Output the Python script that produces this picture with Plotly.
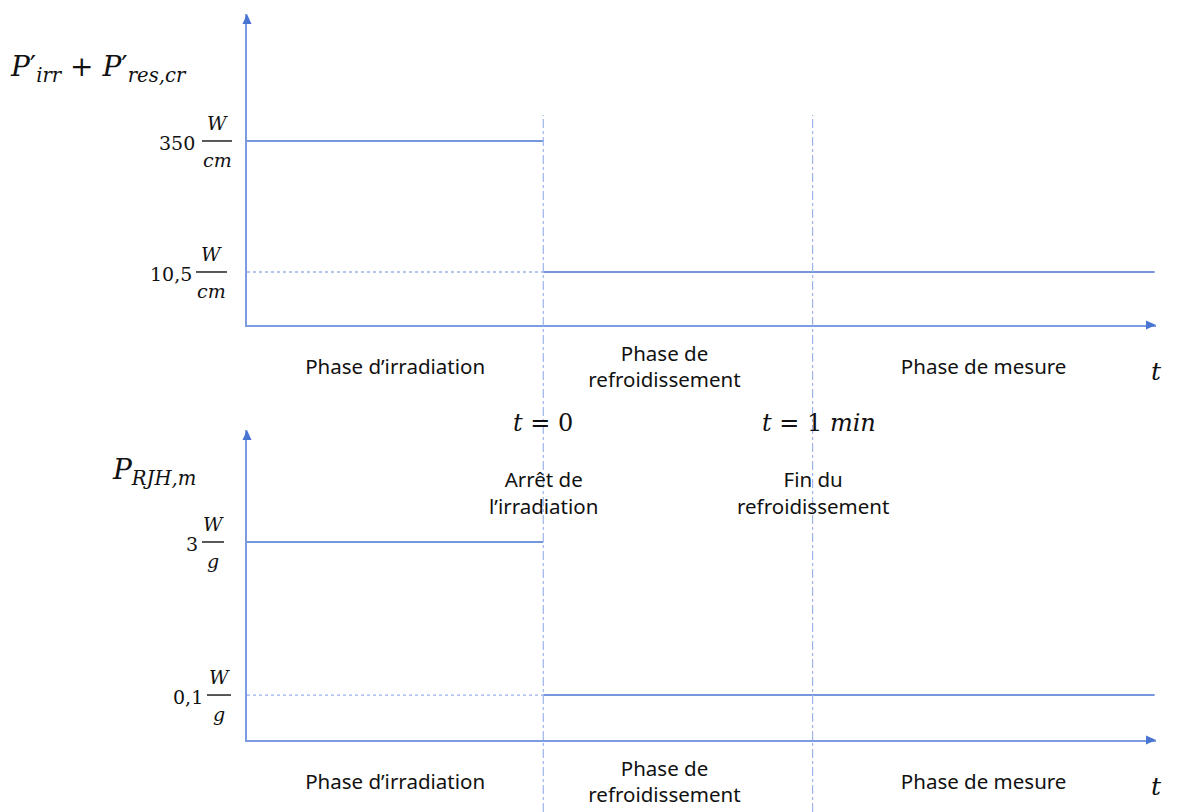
import numpy as np
import plotly.graph_objects as go

# temps (min)
T_DEBUT = -1.1          # début de l'axe / de l'irradiation
T_ARRET = 0.0           # arrêt de l'irradiation
T_FIN_REFROID = 1.0     # fin du refroidissement
T_FIN = 2.27            # fin des courbes
T_AXE = 2.275           # bout de la flèche de l'axe t

# puissance linéique (W/cm)
P_LIN = [350, 10.5]
P_LIN_TXT = ["350", "10,5"]
# puissance massique (W/g)
P_MAS = [3, 0.1]
P_MAS_TXT = ["3", "0,1"]

PHASES = ["Phase d’irradiation", "Phase de<br>refroidissement", "Phase de mesure"]
PHASES_T = [(T_DEBUT + T_ARRET) / 2, 0.45, (T_FIN_REFROID + T_FIN) / 2]

W, H = 1181, 812
BLEU = "#4874d2"
BLEU_AXE = "#7d9be0"
BLEU_CLAIR = "#9cb4ea"
NOIR = "#111111"
SERIF = "DejaVu Serif, serif"
FONT_TXT = dict(family="Noto Sans, sans-serif", size=20.5, color=NOIR)
FONT_MATH = dict(family=SERIF, size=19, color=NOIR)


def px_x(p):
    return p / W


def px_y(p):
    return 1 - p / H


fig = go.Figure()

# courbes : niveau pendant l'irradiation puis niveau résiduel
for niveaux, xa, ya in [(P_LIN, "x", "y"), (P_MAS, "x2", "y2")]:
    fig.add_trace(go.Scatter(
        x=[T_DEBUT, T_ARRET, None, T_ARRET, T_FIN],
        y=[niveaux[0], niveaux[0], None, niveaux[1], niveaux[1]],
        mode="lines", line=dict(color=BLEU, width=1.6),
        xaxis=xa, yaxis=ya, showlegend=False, hoverinfo="skip",
    ))
    # rappel en pointillé du niveau résiduel
    fig.add_trace(go.Scatter(
        x=[T_DEBUT, T_ARRET],
        y=[niveaux[1], niveaux[1]],
        mode="lines", line=dict(color=BLEU_CLAIR, width=1.3, dash="dot"),
        xaxis=xa, yaxis=ya, showlegend=False, hoverinfo="skip",
    ))

# libellés des phases sous chaque axe t (axe y3 = repère de la page, en pixels)
for y_lig in [369, 784]:
    fig.add_trace(go.Scatter(
        x=PHASES_T, y=[y_lig] * 3, text=PHASES, mode="text",
        textfont=FONT_TXT, textposition="middle center", cliponaxis=False,
        xaxis="x", yaxis="y3", showlegend=False, hoverinfo="skip",
    ))
    fig.add_trace(go.Scatter(
        x=[T_AXE], y=[y_lig + 5], text=["<i>t</i>"], mode="text",
        textfont=dict(family=SERIF, size=25, color=NOIR), cliponaxis=False,
        xaxis="x", yaxis="y3", showlegend=False, hoverinfo="skip",
    ))

axe_x = dict(range=[T_DEBUT, T_AXE], showgrid=False, zeroline=False, ticks="",
             showticklabels=False, showline=True, linecolor=BLEU_AXE, linewidth=1.5,
             fixedrange=True)
axe_y = dict(type="log", showgrid=False, zeroline=False, ticks="", showticklabels=False,
             showline=True, linecolor=BLEU_AXE, linewidth=1.5, fixedrange=True)
fig.update_layout(
    width=W, height=H,
    margin=dict(l=0, r=0, t=0, b=0),
    paper_bgcolor="white", plot_bgcolor="rgba(0,0,0,0)",
    xaxis=dict(domain=[px_x(247), px_x(1156)], anchor="y", **axe_x),
    xaxis2=dict(domain=[px_x(247), px_x(1156)], anchor="y2", **axe_x),
    yaxis=dict(domain=[px_y(325), px_y(14)], range=[0.405, 4.02], anchor="x", **axe_y),
    yaxis2=dict(domain=[px_y(740), px_y(430)], range=[-1.434, 1.558], anchor="x2", **axe_y),
    yaxis3=dict(domain=[0, 1], range=[H, 0], anchor="free", position=0, visible=False,
                fixedrange=True),
)

# pointes de flèche des axes
for xr, yr in [("x domain", "y domain"), ("x2 domain", "y2 domain")]:
    fig.add_shape(type="path", xref=xr, yref=yr, xsizemode="pixel", ysizemode="pixel",
                  xanchor=1, yanchor=0, path="M -10,-4.5 L 0,0 L -10,4.5 Z",
                  fillcolor=BLEU, line=dict(width=0))
    fig.add_shape(type="path", xref=xr, yref=yr, xsizemode="pixel", ysizemode="pixel",
                  xanchor=0, yanchor=1, path="M -4.5,-10 L 0,0 L 4.5,-10 Z",
                  fillcolor=BLEU, line=dict(width=0))

# lignes verticales t = 0 et t = 1 min
for t in [T_ARRET, T_FIN_REFROID]:
    fig.add_shape(type="line", xref="x", yref="paper", x0=t, x1=t,
                  y0=0, y1=px_y(115), line=dict(color=BLEU_CLAIR, width=1.2, dash="dashdot"))


# graduations en fraction
def graduation(yref, valeur, nombre, denom, x_droite, x0_barre, x1_barre):
    y = np.log10(valeur)
    xc = (x0_barre + x1_barre) / 2
    fig.add_annotation(x=px_x(x_droite), y=y, xref="paper", yref=yref, text=nombre,
                       xanchor="right", showarrow=False, font=FONT_MATH, yshift=-2)
    fig.add_annotation(x=px_x(xc), y=y, xref="paper", yref=yref, text="<i>W</i>",
                       xanchor="center", showarrow=False, font=FONT_MATH, yshift=18)
    fig.add_annotation(x=px_x(xc), y=y, xref="paper", yref=yref, text=f"<i>{denom}</i>",
                       xanchor="center", showarrow=False, font=FONT_MATH, yshift=-19)
    fig.add_shape(type="line", xref="paper", yref=yref, x0=px_x(x0_barre), x1=px_x(x1_barre),
                  y0=valeur, y1=valeur, line=dict(color=NOIR, width=1.4))


graduation("y", P_LIN[0], P_LIN_TXT[0], "cm", 197, 202, 232)
graduation("y", P_LIN[1], P_LIN_TXT[1], "cm", 194, 196, 227)
graduation("y2", P_MAS[0], P_MAS_TXT[0], "g", 200, 202, 224)
graduation("y2", P_MAS[1], P_MAS_TXT[1], "g", 205, 207, 231)

# instants
fig.add_annotation(x=T_ARRET, y=px_y(423), xref="x", yref="paper", text="<i>t</i> = 0",
                   showarrow=False, font=dict(family=SERIF, size=24, color=NOIR))
fig.add_annotation(x=T_FIN_REFROID, y=px_y(423), xref="x", yref="paper", xshift=6,
                   text="<i>t</i> = 1 <i>min</i>", showarrow=False,
                   font=dict(family=SERIF, size=24, color=NOIR))
fig.add_annotation(x=T_ARRET, y=px_y(492), xref="x", yref="paper", text="Arrêt de<br>l’irradiation",
                   showarrow=False, font=FONT_TXT)
fig.add_annotation(x=T_FIN_REFROID, y=px_y(492), xref="x", yref="paper", text="Fin du<br>refroidissement",
                   showarrow=False, font=FONT_TXT)

# titres des axes verticaux
fig.add_annotation(x=px_x(8), y=px_y(48), xref="paper", yref="paper", xanchor="left",
                   text="<i>P</i>′<sub><i>irr</i></sub> + <i>P</i>′<sub><i>res,cr</i></sub>",
                   showarrow=False, font=dict(family=SERIF, size=28, color=NOIR))
fig.add_annotation(x=px_x(110), y=px_y(472), xref="paper", yref="paper", xanchor="left",
                   text="<i>P</i><sub><i>RJH,m</i></sub>",
                   showarrow=False, font=dict(family=SERIF, size=28, color=NOIR))

fig.write_html("out.html", config={"displayModeBar": False},
               post_script="document.body.style.margin = '0';")
